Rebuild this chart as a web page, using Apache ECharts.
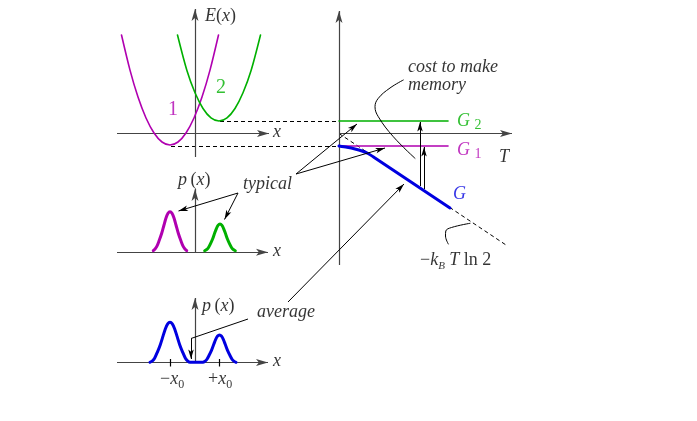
<!DOCTYPE html>
<html><head><meta charset="utf-8">
<script src="https://cdn.jsdelivr.net/npm/echarts@6/dist/echarts.min.js"></script>
<style>html,body{margin:0;padding:0;background:#fff}#c{width:697px;height:421px}</style>
</head><body><div id="c"></div>
<script>
// ---------- diagram data (diagram units, y grows downward) ----------
const wellOne = [[121.5,35],[130,70.1],[138,97.1],[146,118],[154,133],[162,142],[170,145],[178,142],[186,133],[194,118],[202,97.1],[210,70.1],[218.5,35]];
const wellTwo = [[177.5,35],[187,70.8],[195,92.8],[203,108.5],[211,117.9],[219,121],[227,117.9],[235,108.5],[243,92.8],[251,70.8],[260.5,35]];
const typicalOne = [[153.3,250.7],[155,249],[156.7,246.7],[159,241],[161.7,233.3],[164,225],[166,218],[168,213.3],[170,211.7],[172,213.3],[174,218],[176,225],[178.3,233.3],[181,241],[183.3,246.7],[185,249],[186.7,250.7]];
const typicalTwo = [[204.7,250.7],[206.7,249.5],[208.2,248],[210.3,244.1],[212.7,238.8],[214.7,233.1],[216.5,228.3],[218.2,225.1],[220,224],[221.8,225.1],[223.5,228.3],[225.3,233.1],[227.3,238.8],[229.7,244.1],[231.8,248],[233.3,249.5],[235.3,250.7]];
const averageDist = [[150,362.3],[152.7,360.6],[154.6,358.2],[157.3,352.3],[160.4,344.4],[163.1,335.9],[165.4,328.7],[167.7,323.9],[170,322.3],[172.3,323.9],[174.6,328.7],[176.9,335.9],[179.6,344.4],[182.7,352.3],[185.4,358.2],[187.3,360.6],[190,362.3],[203,362.3],[205.2,361.1],[206.8,359.5],[209,355.5],[211.6,350.1],[213.8,344.3],[215.7,339.4],[217.6,336.1],[219.5,335],[221.4,336.1],[223.3,339.4],[225.2,344.3],[227.4,350.1],[230,355.5],[232.2,359.5],[233.8,361.1],[236,362.3]];
const levelG2 = [[339,121],[448,121]];
const levelG1 = [[339,146],[448,146]];
const freeEnergyG = [[339,146],[347,147.3],[355,149],[362,151],[368,153.5],[375,158],[450,208]];
const entropyLine = [[[339,133.5],[506,245]]];
const minimumLinks = [[[220,121],[339,121]],[[171,146],[339,146]]];
const axisArrows = [
  [[195,157],[195,9]], [[117,133.5],[269,133.5]],
  [[195,253],[195,189]], [[117,252.3],[268,252.3]],
  [[195,363],[195,298]], [[117,362.5],[268,362.5]],
  [[339,265],[339,11]], [[339,133.5],[512,133.5]]
];
const pointerArrows = [
  [[238,193],[178.5,211]], [[238,193],[224.5,219.5]],
  [[296,174],[357,124]], [[296,174],[385,148]],
  [[420,186],[420,122]], [[424,189],[424,147]],
  [[288,302],[404,184]], [[191,338.5],[191,359]]
];
const pointerLines = [[[248,319],[191,338.5]]];
const costCallout = [[403.3,80],[390,88],[378.3,98.3],[375,106.7],[378.3,116.7],[393.3,136.7],[415,158.3]];
const kTCallout = [[448.3,244],[445.5,236],[445.8,231],[451.5,227.5],[470,223.3]];
const xTicks = [[[170,359],[170,366.5]],[[219,359],[219,366.5]]];
const labelAnchors = [[205,16],[273,132],[168,110],[216,88],[178,180],[243,184],[273,251],[202,306],[257,312],[273,361],[160,379],[208,379],[408,67],[408,85],[457,121],[457,150],[499,157],[453,194],[420,260]];
const labelTexts = ['E(x)','x','1','2','p(x)','typical','x','p(x)','average','x','−x0','+x0','cost to make','memory','G2','G1','T','G','−kB T ln 2'];

// ---------- styling ----------
const F = '"Liberation Serif","Times New Roman",serif';
const M = '#b000b0', GR = '#00b000', B = '#0000e0', K = '#000', AX = '#444';
const ARROW = 'path://M0,0 L3,10 L0,7.6 L-3,10 Z M0,-10';
const fmt = {
  'E(x)': ['{i|E}{n|(}{i|x}{n|)}', K],
  'x': ['{i|x}', K],
  '1': ['{d|1}', M],
  '2': ['{d|2}', GR],
  'p(x)': ['{i|p}{n|\u2009(}{i|x}{n|)}', K],
  'typical': ['{i|typical}', K],
  'average': ['{i|average}', K],
  '−x0': ['{n|−}{i|x}{s|0}', K],
  '+x0': ['{n|+}{i|x}{s|0}', K],
  'cost to make': ['{i|cost to make}', K],
  'memory': ['{i|memory}', K],
  'G2': ['{i|G }{g|2}', GR],
  'G1': ['{i|G }{g|1}', M],
  'T': ['{i|T}', K],
  'G': ['{i|G}', B],
  '−kB T ln 2': ['{n|−}{i|k}{si|B}{i| T}{n| ln 2}', K]
};
const rich = {
  i: {fontFamily: F, fontStyle: 'italic', fontSize: 18, lineHeight: 23},
  n: {fontFamily: F, fontSize: 18, lineHeight: 23},
  d: {fontFamily: F, fontSize: 20, lineHeight: 23},
  s: {fontFamily: F, fontSize: 12, lineHeight: 12, verticalAlign: 'bottom'},
  si: {fontFamily: F, fontStyle: 'italic', fontSize: 11, lineHeight: 11, verticalAlign: 'bottom'},
  g: {fontFamily: F, fontSize: 14, lineHeight: 16, verticalAlign: 'bottom'}
};

function curve(data, color, width, z, smooth) {
  return {type: 'line', data: data, smooth: smooth, symbol: 'none', silent: true, z: z,
    lineStyle: {color: color, width: width, cap: 'round', join: 'round'}};
}
function segs(list, color, width, z, opts) {
  return Object.assign({type: 'lines', coordinateSystem: 'cartesian2d', silent: true, z: z,
    data: list.map(c => ({coords: c})),
    lineStyle: {color: color, width: width, opacity: 1, curveness: 0}}, opts || {});
}

const chart = echarts.init(document.getElementById('c'), null, {renderer: 'canvas'});
chart.setOption({
  animation: false,
  backgroundColor: '#fff',
  grid: {left: 0, right: 0, top: 0, bottom: 0},
  xAxis: {type: 'value', min: 0, max: 697, show: false},
  yAxis: {type: 'value', min: 0, max: 421, inverse: true, show: false},
  series: [
    segs(minimumLinks, K, 1, 2, {lineStyle: {color: K, width: 1, opacity: 1, type: [4, 3]}}),
    segs(entropyLine, K, 1, 2, {lineStyle: {color: K, width: 1, opacity: 1, type: [4, 3]}}),
    segs(axisArrows, AX, 1.2, 3, {symbol: ['none', ARROW], symbolSize: [[7, 24], [7, 24]]}),
    segs(xTicks, K, 1.2, 3),
    curve(wellOne, M, 1.6, 4, 0.3),
    curve(wellTwo, GR, 1.6, 4, 0.3),
    curve(typicalOne, M, 3, 4, 0.3),
    curve(typicalTwo, GR, 3, 4, 0.3),
    curve(averageDist, B, 3, 4, 0.3),
    curve(levelG2, GR, 1.6, 4, false),
    curve(levelG1, M, 1.6, 4, false),
    curve(freeEnergyG, B, 3, 5, 0.25),
    curve(costCallout, K, 1, 6, 0.4),
    curve(kTCallout, K, 1, 6, 0.4),
    segs(pointerLines, K, 1, 6),
    segs(pointerArrows, K, 1, 6, {symbol: ['none', ARROW], symbolSize: [[5.5, 19], [5.5, 19]]}),
    {
      type: 'scatter', silent: true, z: 10, symbolSize: 0,
      data: labelAnchors.map((p, k) => ({
        value: p,
        label: {formatter: fmt[labelTexts[k]][0], color: fmt[labelTexts[k]][1]}
      })),
      label: {show: true, position: 'right', distance: 0, rich: rich}
    }
  ]
});
</script></body></html>
